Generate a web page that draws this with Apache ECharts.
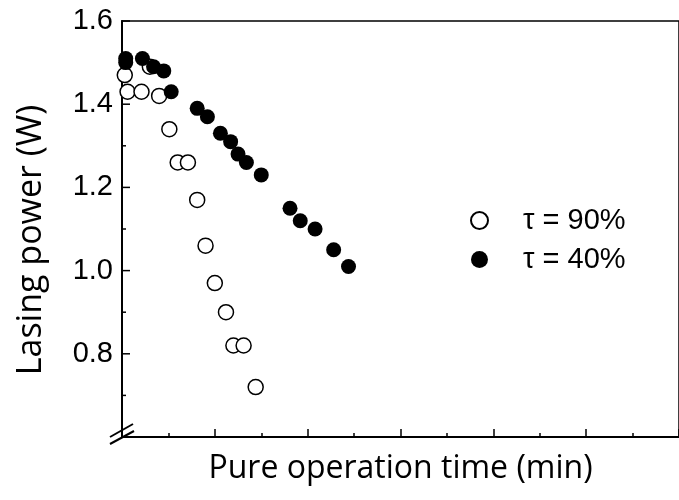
<!DOCTYPE html>
<html>
<head>
<meta charset="utf-8">
<script src="https://cdn.jsdelivr.net/npm/echarts@6/dist/echarts.min.js"></script>
<style>
	html, body { margin: 0; padding: 0; background: #fff; }
	#chart { width: 679px; height: 500px; }
</style>
</head>
<body>
<div id="chart"></div>
<script>
// time in arbitrary units (axis has no labels), power in W
var tau90Time = [0.3, 0.6, 2.1, 3.0, 4.0, 5.1, 6.0, 7.1, 8.1, 9.0, 10.0, 11.2, 12.0, 13.1, 14.4];
var tau90Power = [1.47, 1.43, 1.43, 1.49, 1.42, 1.34, 1.26, 1.26, 1.17, 1.06, 0.97, 0.90, 0.82, 0.82, 0.72];
var tau40Time = [0.4, 0.4, 2.2, 3.4, 4.5, 5.3, 8.1, 9.2, 10.6, 11.7, 12.5, 13.4, 15.0, 18.1, 19.2, 20.8, 22.8, 24.4];
var tau40Power = [1.51, 1.50, 1.51, 1.49, 1.48, 1.43, 1.39, 1.37, 1.33, 1.31, 1.28, 1.26, 1.23, 1.15, 1.12, 1.10, 1.05, 1.01];
var seriesNames = ['τ = 90%', 'τ = 40%'];
var yTicks = [0.8, 1.0, 1.2, 1.4, 1.6];
var yMinorTicks = [0.7, 0.9, 1.1, 1.3, 1.5];

function pairs(xs, ys) {
	var out = [];
	for (var i = 0; i < xs.length; i++) {
		out.push([xs[i], ys[i]]);
	}
	return out;
}

// y ticks drawn on the left axis line, pointing into the plot
function tickSeries(values, len) {
	return {
		type: 'custom',
		silent: true,
		z: 5,
		clip: false,
		encode: { x: 0, y: 1 },
		data: values.map(function(v) { return [0, v]; }),
		renderItem: function(params, api) {
			var p = api.coord([api.value(0), api.value(1)]);
			return {
				type: 'line',
				shape: { x1: p[0], y1: p[1], x2: p[0] + len, y2: p[1] },
				style: { stroke: '#000', lineWidth: 1.5 }
			};
		}
	};
}

var chart = echarts.init(document.getElementById('chart'));
var option = {
	animation: false,
	backgroundColor: '#fff',
	grid: {
		left: 122,
		top: 21,
		width: 565,
		height: 416,
		show: true,
		borderColor: '#000',
		borderWidth: 1.5
	},
	legend: {
		orient: 'vertical',
		left: 465,
		top: 201,
		itemWidth: 17,
		itemHeight: 17,
		itemGap: 10,
		icon: 'circle',
		data: seriesNames,
		textStyle: {
			fontFamily: 'Liberation Sans',
			fontSize: 29,
			color: '#000',
			padding: [0, 0, 0, 30]
		}
	},
	xAxis: {
		type: 'value',
		min: 0,
		max: 60,
		interval: 10,
		name: 'Pure operation time (min)',
		nameLocation: 'middle',
		nameGap: 16,
		nameTextStyle: {
			fontFamily: 'Open Sans',
			fontSize: 32,
			color: '#000'
		},
		axisLine: { lineStyle: { color: '#000', width: 2 } },
		axisTick: { show: true, inside: true, length: 8, lineStyle: { color: '#000', width: 1.5 } },
		minorTick: { show: true, splitNumber: 2, length: 4, lineStyle: { color: '#000', width: 1.5 } },
		axisLabel: { show: false },
		splitLine: { show: false }
	},
	yAxis: {
		type: 'value',
		min: 0.6,
		max: 1.6,
		interval: 0.2,
		name: 'Lasing power (W)',
		nameLocation: 'middle',
		nameGap: 74,
		nameTextStyle: {
			fontFamily: 'Open Sans',
			fontSize: 34,
			color: '#000',
			padding: [0, 22, 0, 0]
		},
		axisLine: { show: true, lineStyle: { color: '#000', width: 2 } },
		axisTick: { show: false },
		axisLabel: {
			fontFamily: 'Liberation Sans',
			fontSize: 29,
			color: '#000',
			margin: 9,
			formatter: function(v) {
				for (var i = 0; i < yTicks.length; i++) {
					if (Math.abs(v - yTicks[i]) < 1e-6) return yTicks[i].toFixed(1);
				}
				return '';
			}
		},
		splitLine: { show: false }
	},
	// axis break mark at the lower left corner
	graphic: [{
		type: 'line',
		shape: { x1: 110, y1: 437, x2: 133, y2: 424 },
		style: { stroke: '#000', lineWidth: 2 }
	}, {
		type: 'line',
		shape: { x1: 110, y1: 444, x2: 134, y2: 431 },
		style: { stroke: '#000', lineWidth: 2 }
	}],
	series: [{
		name: seriesNames[0],
		type: 'scatter',
		symbol: 'circle',
		symbolSize: 15,
		itemStyle: { color: '#fff', borderColor: '#000', borderWidth: 1.5, opacity: 1 },
		data: pairs(tau90Time, tau90Power)
	}, {
		name: seriesNames[1],
		type: 'scatter',
		symbol: 'circle',
		symbolSize: 15,
		itemStyle: { color: '#000', opacity: 1 },
		data: pairs(tau40Time, tau40Power)
	}, tickSeries(yTicks, 8), tickSeries(yMinorTicks, 4)]
};
chart.setOption(option);
</script>
</body>
</html>
